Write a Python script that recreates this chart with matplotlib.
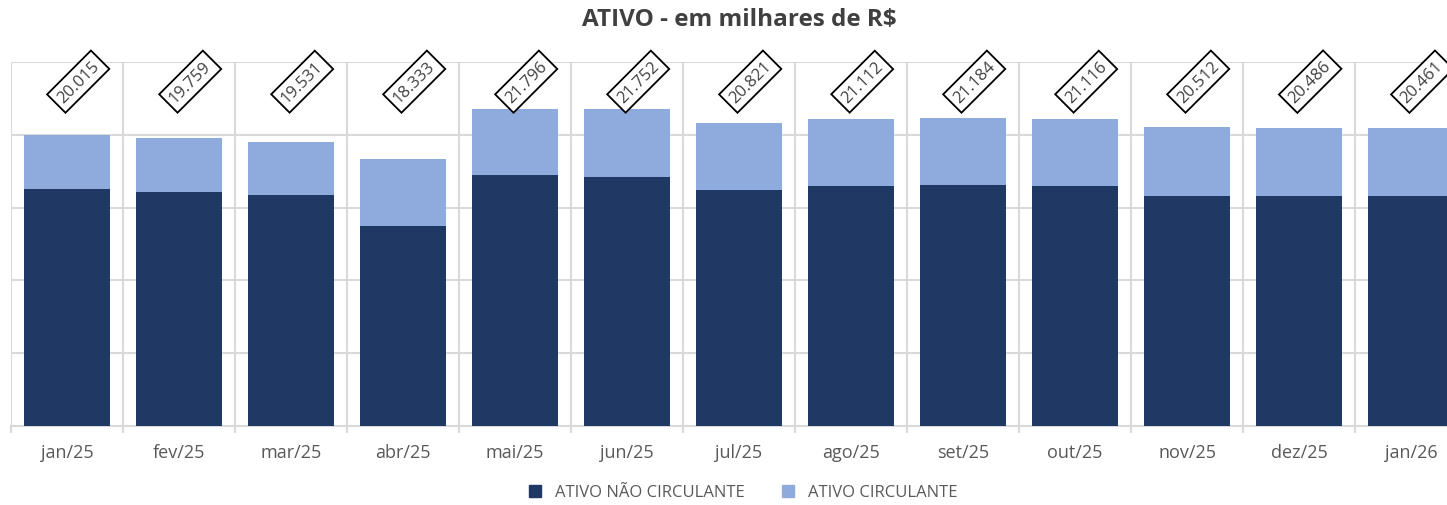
import matplotlib.pyplot as plt
from matplotlib.lines import Line2D

plt.rcParams['font.family'] = ['Open Sans', 'DejaVu Sans']

meses = ['jan/25', 'fev/25', 'mar/25', 'abr/25', 'mai/25', 'jun/25', 'jul/25',
         'ago/25', 'set/25', 'out/25', 'nov/25', 'dez/25', 'jan/26']
totais = [20015, 19759, 19531, 18333, 21796, 21752, 20821,
          21112, 21184, 21116, 20512, 20486, 20461]
nao_circulante = [16306, 16100, 15895, 13768, 17246, 17081, 16190,
                  16464, 16533, 16464, 15826, 15826, 15826]
circulante = [t - n for t, n in zip(totais, nao_circulante)]

cor_escura = '#203864'
cor_clara = '#8faadc'
cor_grade = '#d9d9d9'

fig = plt.figure(figsize=(14.47, 5.06), dpi=100)
# the plot area runs past the right edge of the picture, as in the original
ax = fig.add_axes([11 / 1447, 79 / 506, 1456 / 1447, 364 / 506])

x = range(len(meses))
ax.bar(x, nao_circulante, width=0.77, color=cor_escura, zorder=3)
ax.bar(x, circulante, width=0.77, bottom=nao_circulante, color=cor_clara, zorder=3)

# boxed totals, rotated, along the top of the plot
for i, t in enumerate(totais):
    ax.text(i + 0.1, 23650, f"{t:,}".replace(',', '.'), rotation=45,
            ha='center', va='center', fontsize=12, color='#404040', zorder=4,
            bbox=dict(boxstyle='square,pad=0.3', fc='white', ec='black', lw=1.3))

ax.set_xlim(-0.5, len(meses) - 0.5)
ax.set_ylim(0, 25000)
ax.set_yticks(range(0, 25001, 5000))
ax.set_xticks(list(x))
ax.set_xticklabels(meses, fontsize=13, color='#595959')
ax.set_xticks([i - 0.5 for i in range(len(meses) + 1)], minor=True)
ax.tick_params(axis='x', which='major', length=0, pad=12)
ax.tick_params(axis='x', which='minor', length=5, color=cor_grade, width=1.5)
ax.tick_params(axis='y', left=False, labelleft=False)
ax.grid(axis='y', color=cor_grade, lw=1.5, zorder=0)
ax.grid(axis='x', which='minor', color=cor_grade, lw=1.5, zorder=0)
for lado in ['top', 'right', 'left']:
    ax.spines[lado].set_visible(False)
ax.spines['bottom'].set_color(cor_grade)
ax.spines['bottom'].set_linewidth(1.5)

fig.text(0.511, 0.96, 'ATIVO - em milhares de R$', ha='center', va='center',
         fontsize=17.5, fontweight='bold', color='#404040')

alcas = [Line2D([], [], marker='s', ls='', color=cor_escura, markersize=8),
         Line2D([], [], marker='s', ls='', color=cor_clara, markersize=8)]
fig.legend(alcas, ['ATIVO NÃO CIRCULANTE', 'ATIVO CIRCULANTE'], loc='center',
           bbox_to_anchor=(0.51, 0.025), ncol=2, frameon=False, fontsize=12,
           labelcolor='#595959', handletextpad=0.2, columnspacing=1.6)

plt.savefig('out.png', dpi=100)
